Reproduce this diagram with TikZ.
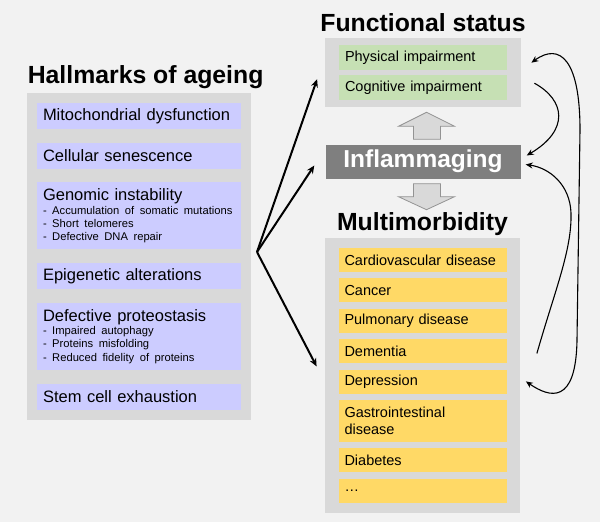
\documentclass[tikz,border=0pt]{standalone}
\usepackage{fontspec}
\setmainfont{Liberation Sans}
\usepackage{xcolor}
\usetikzlibrary{positioning}
\usetikzlibrary{calc}
\usetikzlibrary{fit}
\usetikzlibrary{backgrounds}
\usetikzlibrary{arrows.meta}
\definecolor{pagegray}{HTML}{F2F2F2}
\definecolor{panelgray}{HTML}{D9D9D9}
\definecolor{lavender}{HTML}{CCCCFF}
\definecolor{palegreen}{HTML}{C6E0B4}
\definecolor{sand}{HTML}{FFD966}
\definecolor{inflamgray}{HTML}{7F7F7F}
\newcommand{\sublines}[1]{\par{\fontsize{11.2}{13.3}\selectfont\raggedright\noindent #1\par}}

\begin{document}
\begin{tikzpicture}[x=1pt, y=-1pt,  node distance=13.3pt,  hallmark/.style={    fill=lavender,    text width=192pt,    inner xsep=6pt,    inner ysep=0pt,    minimum height=26pt,    align=left,    font=\fontsize{16.5}{19}\selectfont  },  status/.style={    fill=palegreen,    text width=156pt,    inner xsep=6pt,    inner ysep=0pt,    minimum height=25pt,    align=left,    font=\fontsize{14.5}{17}\selectfont  },  disease/.style={    fill=sand,    text width=156pt,    inner xsep=6pt,    inner ysep=0pt,    minimum height=24pt,    align=left,    font=\fontsize{14.5}{17}\selectfont  },  panel/.style={    fill=panelgray,    inner sep=0pt  },  heading/.style={    inner sep=0pt,    font=\fontsize{24.8}{29}\selectfont\bfseries  },  bigarrow/.style={    fill=panelgray,    draw=gray!85,    line width=0.8pt  },  arrow/.style={    -{Stealth[length=8pt,width=7pt]},    line width=2pt  },  feedback/.style={    ->,    >={Stealth[length=7pt,width=6pt]},    line width=1.1pt  }]
		\useasboundingbox (0,0) rectangle (600,522);
		\begin{scope}[on background layer]
			\fill[pagegray] (0,0) rectangle (600,522);
		\end{scope}
		% Hallmarks
		\node[hallmark] (mito) at (139,116) {Mitochondrial dysfunction};
		\node[hallmark, below=of mito] (senes) {Cellular senescence};
		\node[hallmark, below=of senes, minimum height=67pt] (genom) {Genomic instability\sublines{- Accumulation of somatic mutations\\- Short telomeres\\- Defective DNA repair}};
		\node[hallmark, below=of genom] (epigen) {Epigenetic alterations};
		\node[hallmark, below=of epigen, minimum height=67pt] (proteo) {Defective proteostasis\sublines{- Impaired autophagy\\- Proteins misfolding\\- Reduced fidelity of proteins}};
		\node[hallmark, below=of proteo] (stem) {Stem cell exhaustion};
		\begin{scope}[on background layer]
			\node[panel, inner sep=10pt, fit=(mito)(stem)] (hallpanel) {};
		\end{scope}
		% Functional status
		\node[status] (phys) at (423,57.5) {Physical impairment};
		\node[status, below=5pt of phys] (cogn) {Cognitive impairment};
		\begin{scope}[on background layer]
			\node[panel, inner xsep=13.5pt, inner ysep=6.5pt, fit=(phys)(cogn)] (funcpanel) {};
		\end{scope}
		\node[fill=inflamgray, text=white, minimum width=195pt, minimum height=34pt, inner sep=0pt, font=\fontsize{24.5}{29}\selectfont\bfseries, below=37pt of funcpanel] (inflam) {Inflammaging};
		% Multimorbidity
		\node[disease] (cardio) at (422.5,260) {Cardiovascular disease};
		\node[disease, below=6pt of cardio] (cancer) {Cancer};
		\node[disease, below=6pt of cancer] (pulmo) {Pulmonary disease};
		\node[disease, below=6pt of pulmo] (dement) {Dementia};
		\node[disease, below=6pt of dement] (depress) {Depression};
		\node[disease, below=6pt of depress, minimum height=42pt] (gastro) {Gastrointestinal\\disease};
		\node[disease, below=6pt of gastro] (diabet) {Diabetes};
		\node[disease, below=6pt of diabet] (more) {\dots};
		\begin{scope}[on background layer]
			\node[panel, inner xsep=13.5pt, inner ysep=9.5pt, fit=(cardio)(more)] (multipanel) {};
		\end{scope}
		% Headings
		\node[heading, above right=4pt and 1pt of hallpanel.north west] (hallhead) {Hallmarks of ageing};
		\node[heading, above=6pt of funcpanel] (funchead) {Functional status};
		\node[heading, above=2pt of multipanel] (multihead) {Multimorbidity};
		% Block arrows
		\draw[bigarrow] ([shift={(-9.5,-5)}]inflam.north) -- ++(0,-13) -- ++(-15,0) -- ++(28,-14) -- ++(28,14) -- ++(-14,0) -- ++(0,13) -- cycle;
		\draw[bigarrow] ([shift={(-9.5,5)}]inflam.south) -- ++(0,13) -- ++(-15,0) -- ++(28,13) -- ++(28,-13) -- ++(-14,0) -- ++(0,-13) -- cycle;
		% Arrows
		\coordinate (hub) at (257,252);
		\draw[arrow] (hub) -- ([shift={(-8,6.5)}]funcpanel.west);
		\draw[arrow] (hub) -- ([shift={(-11,4)}]inflam.west);
		\draw[arrow] (hub) -- ([shift={(-8,-9)}]multipanel.west);
		\draw[feedback, <->] ([shift={(10.5,-10)}]funcpanel.east) .. controls (560,42) and (580,60) .. (580,130) -- (577,340) .. controls (576,405) and (550,398) .. ([shift={(5.5,6)}]multipanel.east);
		\draw[feedback] ([shift={(13.5,10.5)}]funcpanel.east) .. controls (565,100) and (570,130) .. ([shift={(6,-6)}]inflam.east);
		\draw[feedback] ([shift={(16.5,-22)}]multipanel.east) .. controls (555,290) and (572,250) .. (571,213) .. controls (570,185) and (550,168) .. ([shift={(5,3)}]inflam.east);
	\end{tikzpicture}
\end{document}
